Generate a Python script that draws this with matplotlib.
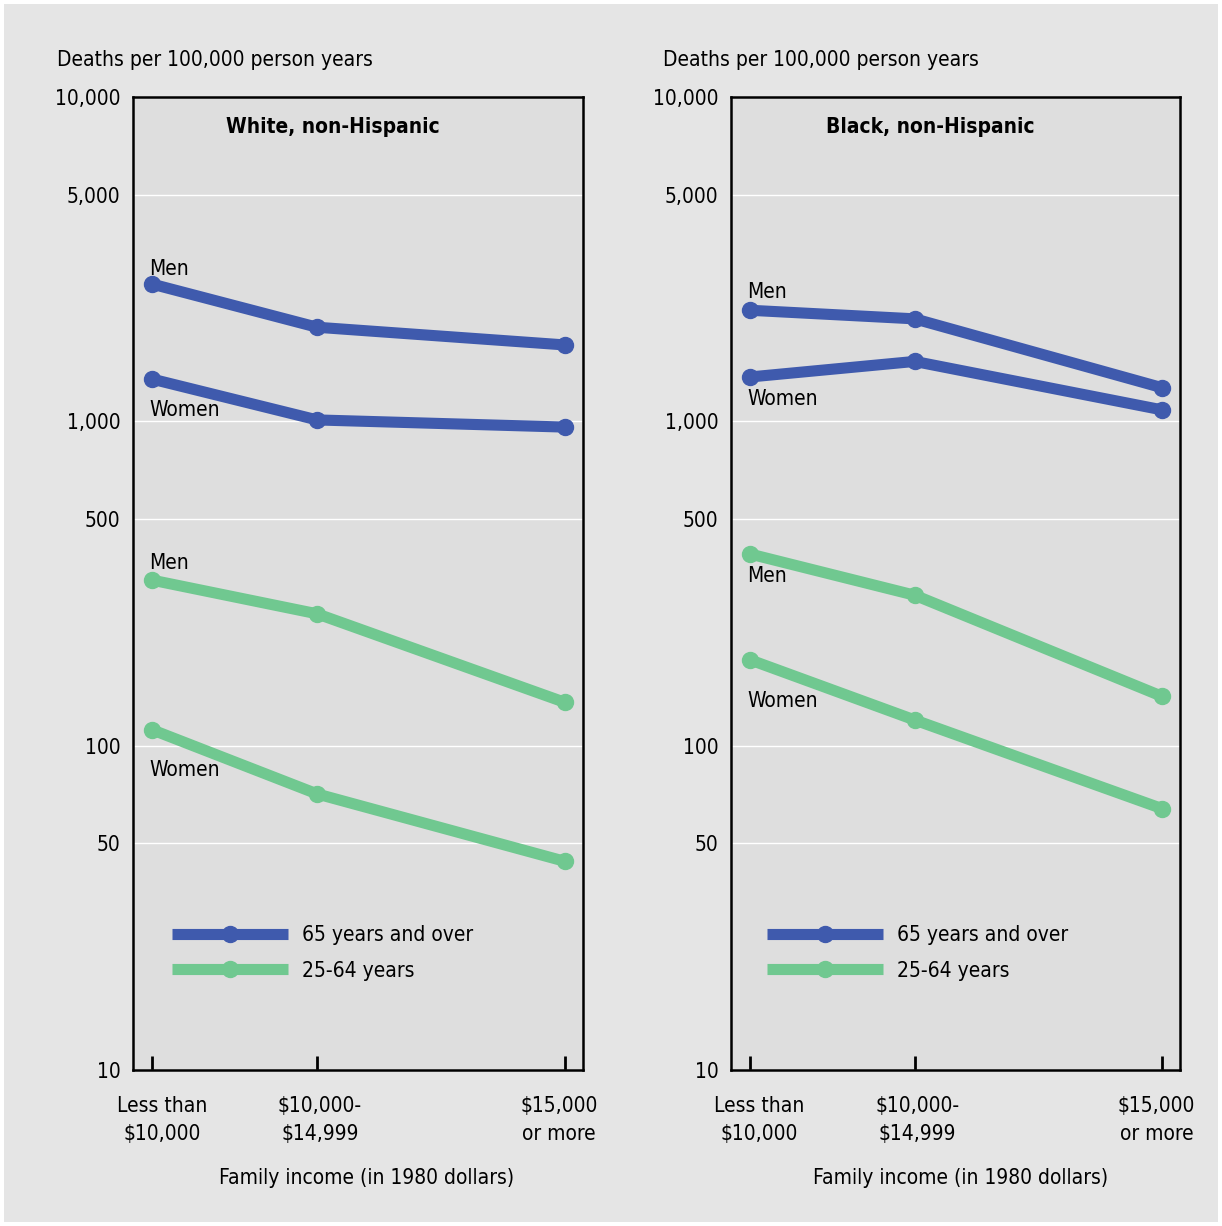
import matplotlib.pyplot as plt
from matplotlib.patches import Rectangle
from matplotlib.transforms import ScaledTranslation

plt.rcParams['font.family'] = ['DejaVu Sans']
plt.rcParams['font.stretch'] = 'condensed'

# income groups, x positions keep the uneven spacing of the original
income_labels = ['Less than\n$10,000', '$10,000-\n$14,999', '$15,000\nor more']
income_x = [0, 1, 2.5]

panels = ['White, non-Hispanic', 'Black, non-Hispanic']

# deaths per 100,000 person years
white_old_men = [2650, 1950, 1720]
white_old_women = [1350, 1010, 960]
white_young_men = [324, 255, 136]
white_young_women = [112, 71, 44]

black_old_men = [2200, 2070, 1270]
black_old_women = [1370, 1530, 1085]
black_young_men = [390, 291, 142]
black_young_women = [184, 120, 64]

blue = '#3f5aad'
green = '#70c890'

fig = plt.figure(figsize=(12.22, 12.26), dpi=100)
fig.patch.set_facecolor('white')
fig.add_artist(Rectangle((4/1222, 4/1226), 1 - 8/1222, 1 - 8/1226,
                         transform=fig.transFigure, facecolor='#e5e5e5',
                         edgecolor='none', zorder=-10))

axes_pos = [[133/1222, 0.1272, 450/1222, 0.7937],
            [731/1222, 0.1272, 449/1222, 0.7937]]
ylab_x = [-0.169, -0.151]
xlab_x = [0.518, 0.512]
legend_x = [0.0867, 0.080]

data = [
    (white_old_men, white_old_women, white_young_men, white_young_women),
    (black_old_men, black_old_women, black_young_men, black_young_women),
]
# label offsets (points) for Men / Women texts next to the first point
label_offsets = [
    [(-2, 11), (-2, -22), (-2, 12), (-2, -29)],
    [(-2, 13), (-2, -16), (-2, -16), (-2, -30)],
]

for i in range(2):
    ax = fig.add_axes(axes_pos[i])
    ax.set_facecolor('#dedede')
    old_men, old_women, young_men, young_women = data[i]

    style = dict(lw=8, marker='o', ms=11.5, solid_capstyle='butt')
    ax.plot(income_x, old_men, color=blue, label='65 years and over', **style)
    ax.plot(income_x, old_women, color=blue, **style)
    ax.plot(income_x, young_men, color=green, label='25-64 years', **style)
    ax.plot(income_x, young_women, color=green, **style)

    series = [old_men, old_women, young_men, young_women]
    names = ['Men', 'Women', 'Men', 'Women']
    for s, name, off in zip(series, names, label_offsets[i]):
        ax.annotate(name, (income_x[0], s[0]), xytext=off, textcoords='offset points',
                    ha='left', va='center', fontsize=15)

    ax.set_yscale('log')
    ax.set_ylim(10, 10000)
    ax.set_xlim(-0.115, 2.61)
    ax.set_yticks([10, 50, 100, 500, 1000, 5000, 10000])
    ax.set_yticklabels(['10', '50', '100', '500', '1,000', '5,000', '10,000'])
    ax.minorticks_off()
    ax.tick_params(axis='y', length=0, pad=9, labelsize=15)
    ax.set_xticks(income_x)
    ax.set_xticklabels(income_labels, linespacing=1.45)
    ax.tick_params(axis='x', direction='in', length=10, width=2, pad=19, labelsize=15)
    # nudge the outer tick labels inward a little, like the original
    for lab, dx in zip(ax.get_xticklabels(), [7, 2, -4]):
        lab.set_transform(lab.get_transform() + ScaledTranslation(dx / 72, 0, fig.dpi_scale_trans))
    ax.grid(axis='y', color='white', lw=1)
    ax.set_axisbelow(True)
    for sp in ax.spines.values():
        sp.set_linewidth(1.8)

    ax.set_xlabel('Family income (in 1980 dollars)', fontsize=15)
    ax.xaxis.set_label_coords(xlab_x[i], -0.101)
    ax.text(ylab_x[i], 1.038, 'Deaths per 100,000 person years', transform=ax.transAxes,
            ha='left', va='center', fontsize=15)
    ax.text(0.444, 0.969, panels[i], transform=ax.transAxes, ha='center', va='center',
            fontsize=15, fontweight='bold')

    ax.legend(loc='upper left', bbox_to_anchor=(legend_x[i], 0.149), frameon=False,
              borderaxespad=0, borderpad=0, handlelength=5.57, handletextpad=0.65,
              labelspacing=0.75, fontsize=15)

fig.savefig('out.png', dpi=100, facecolor=fig.get_facecolor())
